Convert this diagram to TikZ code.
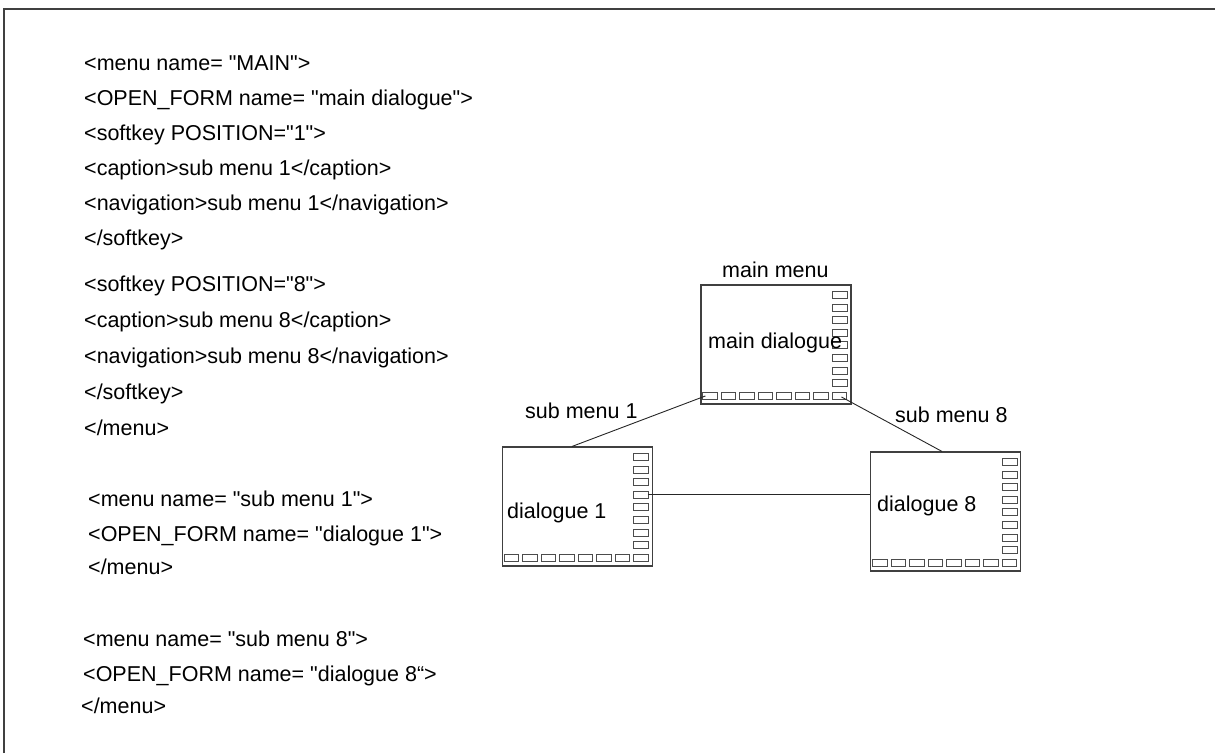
\documentclass[tikz,border=0pt]{standalone}
\usepackage{fontspec}
\setmainfont{Liberation Sans}[Ligatures=TeXOff]
\begin{document}
\begin{tikzpicture}[x=1pt,y=-1pt,
  txt/.style={anchor=base west,inner sep=0pt,font=\fontsize{21.5}{25}\selectfont,text=black},
  dlg/.style={draw=black!75,line width=1.1pt,minimum width=150pt,minimum height=119pt,inner sep=0pt},
  keybox/.style={draw=black!70,line width=0.9pt},
  link/.style={draw=black!85,line width=0.9pt},
  frameline/.style={draw=black!75,line width=2pt}]
\useasboundingbox (0,0) rectangle (1215,753);
\draw[frameline] (4,753) -- (4,9) -- (1215,9);

% listing
\node[txt] (l1) at (84,70) {<menu name= "MAIN">};
\node[txt] (l2) at (84,105) {<OPEN\_FORM name= "main dialogue">};
\node[txt] (l3) at (84,140) {<softkey POSITION="1">};
\node[txt] (l4) at (84,175) {<caption>sub menu 1</caption>};
\node[txt] (l5) at (84,210) {<navigation>sub menu 1</navigation>};
\node[txt] (l6) at (84,245) {</softkey>};
\node[txt] (l7) at (84,291) {<softkey POSITION="8">};
\node[txt] (l8) at (84,327) {<caption>sub menu 8</caption>};
\node[txt] (l9) at (84,363) {<navigation>sub menu 8</navigation>};
\node[txt] (l10) at (84,399) {</softkey>};
\node[txt] (l11) at (84,435) {</menu>};
\node[txt] (l12) at (88,506) {<menu name= "sub menu 1">};
\node[txt] (l13) at (88,541) {<OPEN\_FORM name= "dialogue 1">};
\node[txt] (l14) at (88,574) {</menu>};
\node[txt] (l15) at (83,646) {<menu name= "sub menu 8">};
\node[txt] (l16) at (83,681) {<OPEN\_FORM name= "dialogue 8“>};
\node[txt] (l17) at (81,713) {</menu>};

% dialogue boxes
\node[dlg] (m) at (776,344.5) {};
\node[dlg] (d1) at (577.3,506.5) {};
\node[dlg] (d8) at (945.7,511.5) {};

\foreach \b in {m,d1,d8}{
  \foreach \k in {0,...,7}{
    \draw[keybox] ([xshift=132pt,yshift={-(6.9+12.6*\k)*1pt}]\b.north west) rectangle ++(15,7);
    \draw[keybox] ([xshift={(2.3+18.5*\k)*1pt},yshift=-108pt]\b.north west) rectangle ++(14.5,7);
  }
}

% labels
\node[txt] (tmm) at (722,277) {main menu};
\node[txt] (tmd) at (708,348) {main dialogue};
\node[txt] (ts1) at (525,418) {sub menu 1};
\node[txt] (td1) at (507,518) {dialogue 1};
\node[txt] (ts8) at (895,422) {sub menu 8};
\node[txt] (td8) at (877,511) {dialogue 8};

% connector end points
\coordinate (mk1) at ([xshift=5pt,yshift=-111.5pt]m.north west);
\coordinate (mk8) at ([xshift=141pt,yshift=-112.5pt]m.north west);
\coordinate (d1top) at ([xshift=-5.3pt]d1.north);
\coordinate (d8top) at ([xshift=-3.7pt]d8.north);
\coordinate (d1k4) at ([xshift=146pt,yshift=-48.2pt]d1.north west);
\coordinate (d8left) at (d8.west |- d1k4);

\draw[link] (mk1) -- (d1top);
\draw[link] (mk8) -- (d8top);
\draw[link] (d1k4) -- (d8left);
\end{tikzpicture}
\end{document}
